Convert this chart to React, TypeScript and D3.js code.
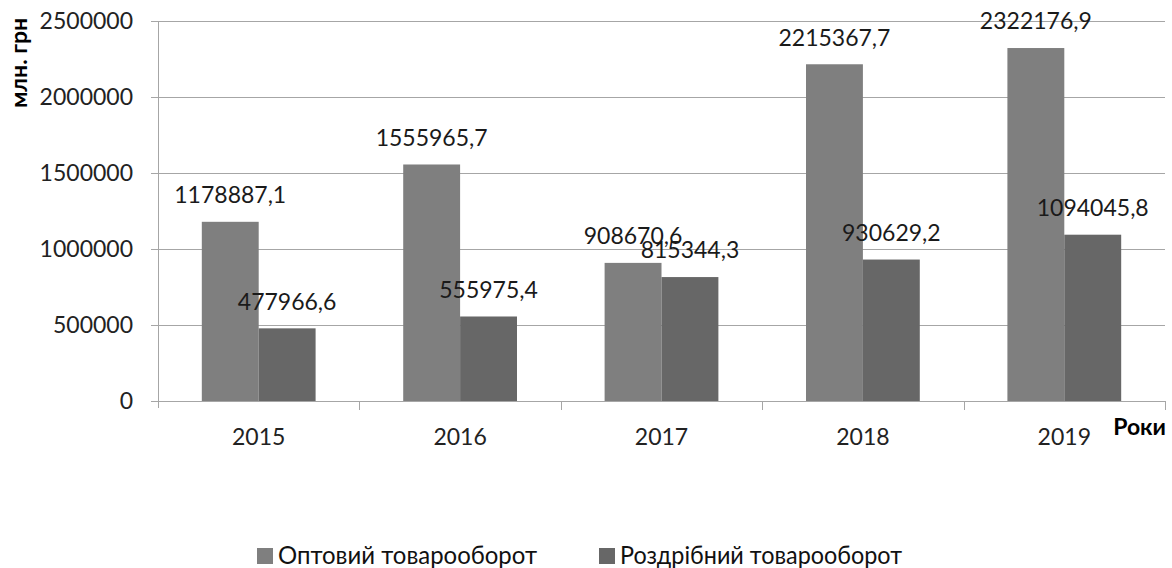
import React, { useRef, useEffect } from 'react';
import * as d3 from 'd3';

const years = ['2015', '2016', '2017', '2018', '2019'];
const wholesale = [1178887.1, 1555965.7, 908670.6, 2215367.7, 2322176.9];
const retail = [477966.6, 555975.4, 815344.3, 930629.2, 1094045.8];
const seriesNames = ['Оптовий товарооборот', 'Роздрібний товарооборот'];
const seriesColors = ['#7f7f7f', '#676767'];
const yTicks = [0, 500000, 1000000, 1500000, 2000000, 2500000];

const fmt = (v: number) => v.toFixed(1).replace('.', ',');

const App = () => {
  const svgRef = useRef<SVGSVGElement>(null);

  useEffect(() => {
    const svg = d3.select(svgRef.current);
    svg.selectAll('*').remove();

    const W = 1172, H = 568;
    const margin = { top: 21, right: 7, bottom: 167, left: 158 };
    const height = H - margin.top - margin.bottom;
    const font = 'Lato, "Open Sans", sans-serif';

    const x = d3.scaleBand().domain(years).range([margin.left, W - margin.right]).paddingInner(0).paddingOuter(0);
    const x1 = d3.scaleBand().domain(['0', '1']).range([0, x.bandwidth()]).paddingOuter(0.77).paddingInner(0);
    const y = d3.scaleLinear().domain([0, 2500000]).range([margin.top + height, margin.top]);

    // gridlines
    svg.append('g')
      .selectAll('line')
      .data(yTicks)
      .enter().append('line')
      .attr('x1', margin.left - 7)
      .attr('x2', W - margin.right)
      .attr('y1', d => Math.round(y(d)) + 0.5)
      .attr('y2', d => Math.round(y(d)) + 0.5)
      .attr('stroke', '#a6a6a6')
      .attr('stroke-width', 1);

    svg.append('g')
      .selectAll('text')
      .data(yTicks)
      .enter().append('text')
      .attr('x', margin.left - 25)
      .attr('y', d => y(d))
      .attr('dy', '0.36em')
      .attr('text-anchor', 'end')
      .attr('font-family', font)
      .attr('font-size', 23)
      .attr('fill', '#222')
      .text(d => d);

    // y axis line
    svg.append('line')
      .attr('x1', margin.left + 0.5).attr('x2', margin.left + 0.5)
      .attr('y1', margin.top).attr('y2', y(0) + 7)
      .attr('stroke', '#a6a6a6');

    // category ticks
    svg.append('g')
      .selectAll('line')
      .data(years)
      .enter().append('line')
      .attr('x1', d => Math.round((x(d) as number) + x.bandwidth()) + 0.5)
      .attr('x2', d => Math.round((x(d) as number) + x.bandwidth()) + 0.5)
      .attr('y1', y(0))
      .attr('y2', y(0) + 9)
      .attr('stroke', '#a6a6a6');

    const groups = svg.append('g')
      .selectAll('g')
      .data(years)
      .enter().append('g')
      .attr('transform', d => `translate(${x(d)},0)`);

    [wholesale, retail].forEach((vals, s) => {
      groups.append('rect')
        .attr('x', x1(String(s)) as number)
        .attr('width', x1.bandwidth())
        .attr('y', (d, i) => y(vals[i]))
        .attr('height', (d, i) => y(0) - y(vals[i]))
        .attr('fill', seriesColors[s]);
    });

    [wholesale, retail].forEach((vals, s) => {
      groups.append('text')
        .attr('x', (x1(String(s)) as number) + x1.bandwidth() / 2)
        .attr('y', (d, i) => y(vals[i]) - 27)
        .attr('dy', '0.36em')
        .attr('text-anchor', 'middle')
        .attr('font-family', font)
        .attr('font-size', 23)
        .attr('fill', '#1a1a1a')
        .text((d, i) => fmt(vals[i]));
    });

    // x labels
    svg.append('g')
      .selectAll('text')
      .data(years)
      .enter().append('text')
      .attr('x', d => (x(d) as number) + x.bandwidth() / 2)
      .attr('y', y(0) + 36)
      .attr('dy', '0.36em')
      .attr('text-anchor', 'middle')
      .attr('font-family', font)
      .attr('font-size', 23)
      .attr('fill', '#222')
      .text(d => d);

    svg.append('text')
      .attr('x', W - 6)
      .attr('y', y(0) + 26)
      .attr('dy', '0.36em')
      .attr('text-anchor', 'end')
      .attr('font-family', font)
      .attr('font-weight', 'bold')
      .attr('font-size', 23)
      .attr('fill', '#000')
      .text('Роки');

    svg.append('text')
      .attr('transform', `translate(19,63) rotate(-90)`)
      .attr('dy', '0.36em')
      .attr('text-anchor', 'middle')
      .attr('font-family', font)
      .attr('font-weight', 'bold')
      .attr('font-size', 23)
      .attr('fill', '#000')
      .text('млн. грн');

    // legend
    const legendX = [257, 599];
    const legendLen = [259, 282];
    seriesNames.forEach((name, i) => {
      svg.append('rect')
        .attr('x', legendX[i]).attr('y', 548)
        .attr('width', 16).attr('height', 16)
        .attr('fill', seriesColors[i]);
      svg.append('text')
        .attr('x', legendX[i] + 21)
        .attr('y', 555)
        .attr('dy', '0.36em')
        .attr('font-family', font)
        .attr('font-size', 25)
        .attr('textLength', legendLen[i])
        .attr('lengthAdjust', 'spacingAndGlyphs')
        .attr('fill', '#111')
        .text(name);
    });
  }, []);

  return (
    <svg ref={svgRef} width={1172} height={568}
      style={{ position: 'absolute', left: 0, top: 0, background: '#fff' }} />
  );
};

export default App;
